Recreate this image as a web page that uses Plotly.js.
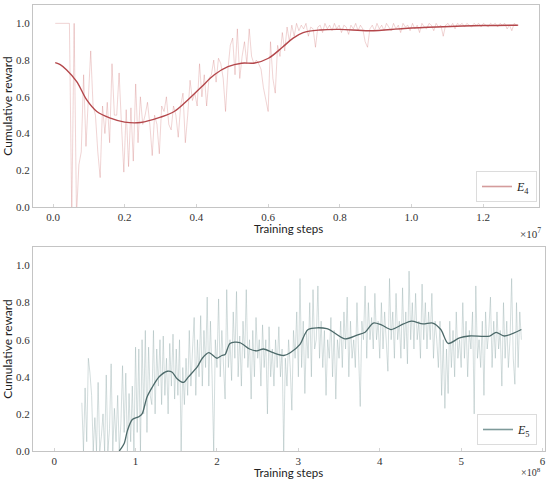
<!DOCTYPE html>
<html>
<head>
<meta charset="utf-8">
<script src="https://cdn.plot.ly/plotly-3.0.1.min.js"></script>
<style>html,body{margin:0;padding:0;background:#fff;}#chart{width:550px;height:479px;}</style>
</head>
<body>
<div id="chart"></div>
<script>
// ---------- Top panel (E4), x in units of 1e7 training steps ----------
const topRawStart = 0.006;
const topRawEnd = 1.3;
const topRawReward = [
  1.0,1.0,1.0,1.0,1.0,1.0,1.0,-0.05,1.0,-0.05,
  0.23,0.3,0.72,0.33,0.6,0.85,0.55,0.5,0.3,0.16,
  0.55,0.4,0.57,0.35,0.78,0.5,0.5,0.73,0.45,0.19,
  0.53,0.22,0.54,0.25,0.67,0.35,0.6,0.45,0.5,0.57,
  0.45,0.28,0.5,0.45,0.29,0.55,0.52,0.6,0.45,0.42,
  0.55,0.5,0.38,0.55,0.62,0.35,0.5,0.69,0.58,0.62,
  0.55,0.78,0.6,0.72,0.55,0.7,0.72,0.8,0.68,0.81,
  0.78,0.7,0.52,0.75,0.88,0.92,0.72,0.97,0.7,0.82,
  0.9,0.78,0.97,0.82,0.78,0.8,0.78,0.75,0.65,0.58,
  0.52,0.9,0.7,0.62,0.88,0.82,0.95,0.85,0.98,0.9,
  0.99,0.93,1.0,0.96,0.99,0.97,1.0,0.93,0.98,0.97,
  0.87,0.98,0.99,0.95,1.0,0.97,0.99,0.96,1.0,0.97,
  0.99,0.95,0.99,0.98,0.94,0.99,0.97,1.0,0.96,0.99,
  0.97,0.9,0.87,0.97,0.99,0.96,1.0,0.97,0.99,0.96,
  1.0,0.98,0.96,1.0,0.97,0.99,0.95,1.0,0.98,0.99,
  0.96,1.0,0.97,0.99,0.95,1.0,0.98,0.97,1.0,0.99,
  0.96,1.0,0.98,0.99,0.93,0.99,1.0,0.98,1.0,0.97,
  1.0,0.99,1.0,0.98,1.0,0.99,0.98,1.0,0.99,1.0,
  0.98,1.0,0.99,0.98,1.0,0.99,1.0,0.98,1.0,0.99,
  1.0,0.97,0.99,0.96,1.0,0.99,0.99
];
const topSmoothSteps = [0.006,0.02,0.038,0.066,0.094,0.122,0.16,0.2,0.244,0.3,0.338,0.376,0.413,0.45,0.488,0.526,0.563,0.601,0.64,0.67,0.698,0.745,0.8,0.884,0.98,1.07,1.2,1.297];
const topSmoothReward = [0.786,0.775,0.746,0.683,0.583,0.52,0.484,0.462,0.46,0.489,0.52,0.583,0.652,0.72,0.764,0.783,0.784,0.81,0.87,0.92,0.95,0.964,0.967,0.96,0.972,0.98,0.988,0.99];
const topTickVals = [0,0.2,0.4,0.6,0.8,1.0,1.2];

// ---------- Bottom panel (E5), x in units of 1e8 training steps ----------
const botRawStart = 0.34;
const botRawEnd = 5.74;
const botRawReward = [
  0.26,0,0.34,0.05,0.5, 0.42,0.3,0,0.18,0, 0.37,0,0.08,0.2,0, 0.41,0,0.12,0.47,0,
  0.23,0.05,0.3,0,0.15, 0.46,0.1,0.42,0,0.31, 0.05,0.35,0,0.56,0.1, 0.55,0,0.6,0.2,0.65,
  0.1,0.56,0.3,0.25,0.65, 0.2,0.55,0.35,0.6,0.25, 0.62,0.3,0.5,0.2,0.58, 0.35,0.63,0.28,0.55,0.3,
  0.6,0,0.45,0.25,0.5, 0.3,0.65,0.35,0.55,0.72, 0.3,0.6,0.4,0.73,0.35, 0.65,0.45,0.83,0.35,0.7,
  0.4,0,0.6,0.45,0.82, 0.4,0.65,0.5,0.28,0.87, 0.45,0.6,0.38,0.75,0.5, 0.86,0.4,0.62,0.35,0.7,
  0.5,0.87,0.45,0.6,0.28, 0.65,0.4,0.72,0.5,0.6, 0.35,0.68,0.45,0.6,0.2, 0.67,0.4,0.55,0.35,0.6,
  0.45,0.67,0.4,0.55,0, 0.5,0.35,0.6,0.45,0.22, 0.65,0.5,0.75,0.4,0.93, 0.45,0.7,0.31,0.65,0.5,
  0.8,0.4,0.87,0.55,0.6, 0.89,0.5,0.7,0.45,0.65, 0.3,0.6,0.5,0.72,0.4, 0.65,0.28,0.6,0.5,0.7,
  0.45,0.75,0.55,0.83,0.4, 0.7,0.5,0.6,0.45,0.8, 0.55,0.24,0.7,0.6,0.89, 0.5,0.8,0.6,0.72,0.55,
  0.85,0.6,0.7,0.5,0.8, 0.55,0.75,0.6,0.43,0.93, 0.6,0.75,0.5,0.85,0.6, 0.7,0.5,0.88,0.55,0.75,
  0.47,0.97,0.6,0.8,0.55, 0.85,0.6,0.7,0.5,0.9, 0.6,0.8,0.55,0.75,0.6, 0.85,0.5,0.7,0.6,0.45,
  0.7,0.3,0.6,0.23,0.55, 0.31,0.7,0.45,0.65,0.4, 0.75,0.5,0.6,0.45,0.8, 0.5,0.7,0.4,0.65,0.55,
  0.75,0.2,0.89,0.5,0.6, 0.45,0.7,0.3,0.75,0.55, 0.65,0.83,0.45,0.7,0.5, 0.75,0.55,0.65,0.35,0.8,
  0.5,0.7,0.45,0.6,0.93, 0.5,0.36,0.8,0.45,0.75, 0.6
];
const botSmoothSteps = [0.8,0.86,0.9,0.96,1.04,1.08,1.14,1.2,1.29,1.39,1.45,1.51,1.59,1.65,1.76,1.82,1.9,2.0,2.06,2.1,2.16,2.28,2.4,2.49,2.57,2.69,2.82,2.9,3.02,3.12,3.35,3.57,3.72,3.82,3.92,4.02,4.14,4.29,4.39,4.53,4.65,4.75,4.84,4.98,5.1,5.35,5.43,5.53,5.74];
const botSmoothReward = [0,0.04,0.11,0.17,0.185,0.2,0.29,0.34,0.4,0.43,0.425,0.39,0.37,0.4,0.455,0.5,0.53,0.5,0.515,0.52,0.58,0.585,0.55,0.54,0.55,0.53,0.515,0.53,0.575,0.655,0.66,0.605,0.625,0.64,0.69,0.68,0.655,0.685,0.70,0.685,0.69,0.655,0.58,0.61,0.62,0.62,0.64,0.62,0.655];
const botTickVals = [0,1,2,3,4,5,6];

// evenly logged evaluation steps
function logSteps(start, end, n) {
  const out = [];
  for (let i = 0; i < n; i++) out.push(start + (end - start) * i / (n - 1));
  return out;
}
const topRawSteps = logSteps(topRawStart, topRawEnd, topRawReward.length);
const botRawSteps = logSteps(botRawStart, botRawEnd, botRawReward.length);

const serif = "Liberation Serif, DejaVu Serif, serif";
const sans = "Lato, Open Sans, sans-serif";
const frame = "#c4c4c4";

const traces = [
  {x: topRawSteps, y: topRawReward, type: "scatter", mode: "lines", xaxis: "x", yaxis: "y",
   line: {color: "rgba(196,84,84,0.25)", width: 1}, showlegend: false, hoverinfo: "skip"},
  {x: topSmoothSteps, y: topSmoothReward, type: "scatter", mode: "lines", xaxis: "x", yaxis: "y",
   line: {color: "#b4474b", width: 1.4, shape: "spline"}, showlegend: false},
  {x: [null], y: [null], type: "scatter", mode: "lines", xaxis: "x", yaxis: "y",
   name: "<i>E</i><sub>4</sub>", line: {color: "#d49c9c", width: 1.6}, legend: "legend"},
  {x: botRawSteps, y: botRawReward, type: "scatter", mode: "lines", xaxis: "x2", yaxis: "y2",
   line: {color: "rgba(150,174,174,0.42)", width: 1}, showlegend: false, hoverinfo: "skip"},
  {x: botSmoothSteps, y: botSmoothReward, type: "scatter", mode: "lines", xaxis: "x2", yaxis: "y2",
   line: {color: "#4d6a6a", width: 1.3, shape: "spline", smoothing: 0.8}, showlegend: false},
  {x: [null], y: [null], type: "scatter", mode: "lines", xaxis: "x2", yaxis: "y2",
   name: "<i>E</i><sub>5</sub>", line: {color: "#7e9a9a", width: 1.6}, legend: "legend2"}
];

const W = 550, H = 479;
const axisBase = {
  showgrid: false, zeroline: false, showline: true, mirror: true,
  linecolor: frame, linewidth: 1, ticks: "inside", ticklen: 3, tickwidth: 1, tickcolor: "#d4d4d4",
  tickfont: {family: serif, size: 11, color: "#333"}
};

const layout = {
  width: W, height: H,
  margin: {l: 0, r: 0, t: 0, b: 0},
  paper_bgcolor: "#fff", plot_bgcolor: "#fff",
  showlegend: true,
  xaxis: Object.assign({}, axisBase, {domain: [33/W, 539/W], range: [-0.056, 1.356],
    tickvals: topTickVals, tickformat: ".1f", anchor: "y"}),
  yaxis: Object.assign({}, axisBase, {domain: [1 - 207/H, 1 - 5/H], range: [0, 1.1],
    dtick: 0.2, tickformat: ".1f", anchor: "x", ticks: "",
    title: {text: "Cumulative reward", font: {family: sans, size: 12, color: "#222"}, standoff: 6}}),
  xaxis2: Object.assign({}, axisBase, {domain: [33/W, 545/W], range: [-0.26, 6.03],
    tickvals: botTickVals, tickformat: "d", anchor: "y2"}),
  yaxis2: Object.assign({}, axisBase, {domain: [1 - 451/H, 1 - 247/H], range: [0, 1.1],
    dtick: 0.2, tickformat: ".1f", anchor: "x2", ticks: "",
    title: {text: "Cumulative reward", font: {family: sans, size: 12, color: "#222"}, standoff: 6}}),
  legend: {x: 537/W, y: 1 - 202/H, xanchor: "right", yanchor: "bottom",
    bgcolor: "#fff", bordercolor: "#dcdcdc", borderwidth: 1,
    font: {family: serif, size: 12, color: "#222"}, itemwidth: 30},
  legend2: {x: 537/W, y: 1 - 445/H, xanchor: "right", yanchor: "bottom",
    bgcolor: "#fff", bordercolor: "#dcdcdc", borderwidth: 1,
    font: {family: serif, size: 12, color: "#222"}, itemwidth: 30},
  annotations: [
    {text: "Training steps", xref: "paper", yref: "paper", x: 288/W, y: 1 - 229/H,
     xanchor: "center", yanchor: "middle", showarrow: false, font: {family: sans, size: 11.5, color: "#222"}},
    {text: "×10<sup>7</sup>", xref: "paper", yref: "paper", x: 543/W, y: 1 - 233/H,
     xanchor: "right", yanchor: "middle", showarrow: false, font: {family: serif, size: 11, color: "#333"}},
    {text: "Training steps", xref: "paper", yref: "paper", x: 288/W, y: 1 - 472/H,
     xanchor: "center", yanchor: "middle", showarrow: false, font: {family: sans, size: 11.5, color: "#222"}},
    {text: "×10<sup>8</sup>", xref: "paper", yref: "paper", x: 543/W, y: 1 - 472/H,
     xanchor: "right", yanchor: "middle", showarrow: false, font: {family: serif, size: 10, color: "#333"}}
  ]
};

Plotly.newPlot("chart", traces, layout, {displayModeBar: false, staticPlot: true});
</script>
</body>
</html>
